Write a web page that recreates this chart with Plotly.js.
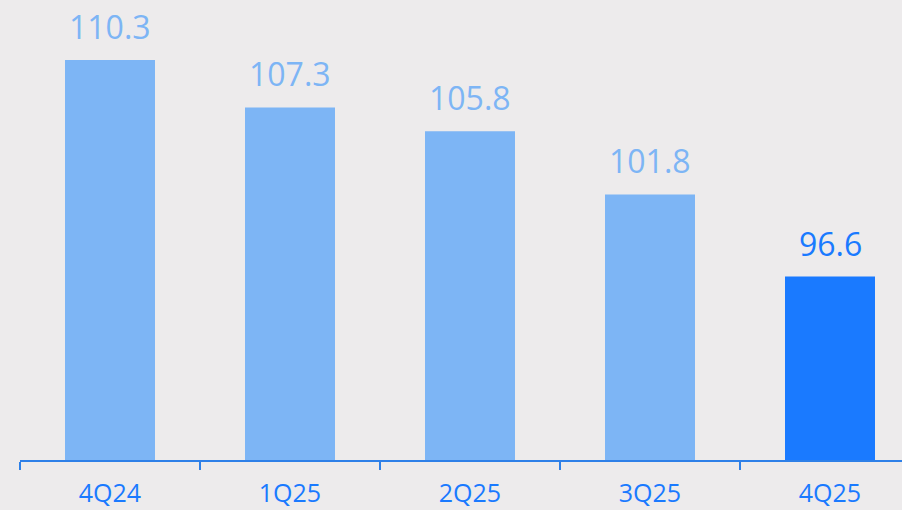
<!DOCTYPE html>
<html><head><meta charset="utf-8">
<script src="https://cdn.plot.ly/plotly-3.0.1.min.js"></script>
<style>html,body{margin:0;padding:0;background:#EDEBEC;}#chart{width:902px;height:510px;}</style>
</head><body><div id="chart"></div>
<script>
const categories = ["4Q24", "1Q25", "2Q25", "3Q25", "4Q25"];
const values = [110.3, 107.3, 105.8, 101.8, 96.6];
const labels = ["110.3", "107.3", "105.8", "101.8", "96.6"];
const barColors = ["#7DB5F5", "#7DB5F5", "#7DB5F5", "#7DB5F5", "#1A7AFF"];
const labelColors = ["#7DB5F5", "#7DB5F5", "#7DB5F5", "#7DB5F5", "#1A7AFF"];

const trace = {
  type: "bar",
  x: categories,
  y: values,
  width: 0.5,
  marker: {color: barColors},
  hoverinfo: "none"
};

const annotations = categories.map((c, i) => ({
  x: c, y: values[i], xref: "x", yref: "y",
  text: labels[i], showarrow: false, yanchor: "bottom", yshift: 10,
  font: {family: "Open Sans", size: 32, color: labelColors[i]}
}));

const layout = {
  width: 902, height: 510,
  margin: {l: 20, r: 0, t: 0, b: 50},
  paper_bgcolor: "#EDEBEC",
  plot_bgcolor: "#EDEBEC",
  showlegend: false,
  xaxis: {
    type: "category",
    range: [-0.5, 4.4],
    showline: true, linecolor: "#2E80E8", linewidth: 2,
    ticks: "outside", tickson: "boundaries", ticklen: 8, tickwidth: 2, tickcolor: "#2E80E8",
    showgrid: false, zeroline: false,
    tickfont: {family: "Open Sans", size: 25, color: "#1A7AFF"},
    ticklabelstandoff: 10
  },
  yaxis: {
    range: [85, 85 + 460 / 15.81],
    visible: false, showgrid: false, zeroline: false
  },
  annotations: annotations
};

Plotly.newPlot("chart", [trace], layout, {displayModeBar: false, staticPlot: true});
</script></body></html>
